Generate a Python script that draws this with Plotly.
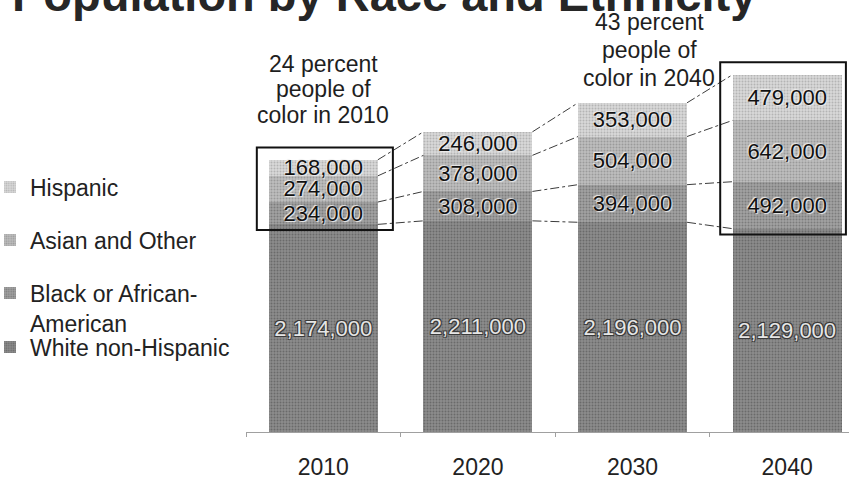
import plotly.graph_objects as go

# Population by race and ethnicity, by decade
years = ["2010", "2020", "2030", "2040"]
white_non_hispanic = [2174000, 2211000, 2196000, 2129000]
black_african_american = [234000, 308000, 394000, 492000]
asian_other = [274000, 378000, 504000, 642000]
hispanic = [168000, 246000, 353000, 479000]

series = [
    ("White non-Hispanic", white_non_hispanic),
    ("Black or African-<br>American", black_african_american),
    ("Asian and Other", asian_other),
    ("Hispanic", hispanic),
]

fills = {
    "White non-Hispanic": ("#8d8d8d", "#6a6a6a"),
    "Black or African-<br>American": ("#a2a2a2", "#7c7c7c"),
    "Asian and Other": ("#bebebe", "#9a9a9a"),
    "Hispanic": ("#d9d9d9", "#b4b4b4"),
}
legend_ids = {
    "Hispanic": "legend",
    "Asian and Other": "legend2",
    "Black or African-<br>American": "legend3",
    "White non-Hispanic": "legend4",
}

FONT = "Liberation Sans, Arial, sans-serif"
BAR_WIDTH = 0.705

fig = go.Figure()
for name, vals in series:
    bg, fg = fills[name]
    is_base = name == "White non-Hispanic"
    fig.add_trace(go.Bar(
        x=years,
        y=vals,
        name=name,
        legend=legend_ids[name],
        width=BAR_WIDTH,
        marker=dict(
            color=bg,
            line=dict(width=0),
            pattern=dict(shape=".", size=3, solidity=0.35,
                         fgcolor=fg, bgcolor=bg, fillmode="replace"),
        ),
        text=[f"{v:,}" for v in vals],
        textposition="inside",
        insidetextanchor="middle",
        textangle=0,
        constraintext="none",
        textfont=dict(
            family=FONT, size=22,
            color="#e6e6e6" if is_base else "#111111",
            shadow=("1px 1px 0 #3a3a3a, -1px -1px 0 #3a3a3a, 1px -1px 0 #3a3a3a, -1px 1px 0 #3a3a3a"
                    if is_base else "1px 1px 1px #eeeeee, -1px -1px 1px #eeeeee"),
        ),
        hoverinfo="skip",
    ))

# Series lines joining each stack boundary between neighbouring bars
half = BAR_WIDTH / 2
cumulative = []
running = [0] * len(years)
for _, vals in series:
    running = [r + v for r, v in zip(running, vals)]
    cumulative.append(list(running))

shapes = []
for level in cumulative:
    for i in range(len(years) - 1):
        shapes.append(dict(
            type="line", xref="x", yref="y",
            x0=i + half, y0=level[i], x1=i + 1 - half, y1=level[i + 1],
            line=dict(color="#3c3c3c", width=1, dash="dashdot"),
        ))

# Boxes around the people-of-color segments of 2010 and 2040
for idx, left, right in [(0, -0.43, 0.45), (3, -0.433, 0.38)]:
    shapes.append(dict(
        type="rect", xref="x", yref="y",
        x0=idx + left, x1=idx + right,
        y0=white_non_hispanic[idx] - 60000,
        y1=cumulative[-1][idx] + 130000,
        line=dict(color="#111111", width=2),
        fillcolor="rgba(0,0,0,0)",
    ))

PLOT_LEFT, PLOT_TOP, PLOT_BOTTOM = 246, 50, 432
PLOT_WIDTH = 849 - PLOT_LEFT


def paper_x(px):
    return (px - PLOT_LEFT) / PLOT_WIDTH


def paper_y(px):
    return (PLOT_BOTTOM - px) / (PLOT_BOTTOM - PLOT_TOP)


annotations = [dict(
    text="<b>Population by Race and Ethnicity</b>",
    xref="paper", yref="paper", x=paper_x(10), y=paper_y(-6),
    xanchor="left", yanchor="middle", showarrow=False,
    font=dict(family=FONT, size=47, color="#262626"),
)]
callouts = [
    (0, ["24 percent", "people of", "color in 2010"], [64, 89, 115]),
    (2.107, ["43 percent", "people of", "color in 2040"], [22, 50, 78]),
]
for xc, lines, ys in callouts:
    for line, py in zip(lines, ys):
        annotations.append(dict(
            text=line, xref="x", yref="paper", x=xc, y=paper_y(py),
            xanchor="center", yanchor="middle", showarrow=False,
            font=dict(family=FONT, size=23, color="#1e1e1e"),
        ))

legend_pos = {"legend": 187, "legend2": 240, "legend3": 308, "legend4": 347}
legend_layout = {}
for lid, py in legend_pos.items():
    legend_layout[lid] = dict(
        xref="container", yref="container",
        x=0, y=1 - py / 479, xanchor="left",
        yanchor="middle",
        valign="top",
        indentation=-10,
        bgcolor="rgba(0,0,0,0)",
        font=dict(family=FONT, size=23, color="#222222"),
    )

fig.update_layout(
    barmode="stack",
    width=849, height=479,
    margin=dict(l=PLOT_LEFT, r=0, t=PLOT_TOP, b=479 - PLOT_BOTTOM, pad=0),
    paper_bgcolor="white", plot_bgcolor="white",
    showlegend=True,
    shapes=shapes,
    annotations=annotations,
    xaxis=dict(
        type="category", range=[-0.5, 3.4],
        showline=True, linecolor="#a0a0a0", linewidth=1,
        ticks="outside", tickson="boundaries", ticklen=4, tickcolor="#a0a0a0",
        tickfont=dict(family=FONT, size=23, color="#222222"),
        ticklabelstandoff=14,
        showgrid=False, zeroline=False, fixedrange=True,
    ),
    yaxis=dict(
        range=[0, 4000000], visible=False, showgrid=False, zeroline=False,
    ),
    **legend_layout,
)

fig.write_html("out.html")
